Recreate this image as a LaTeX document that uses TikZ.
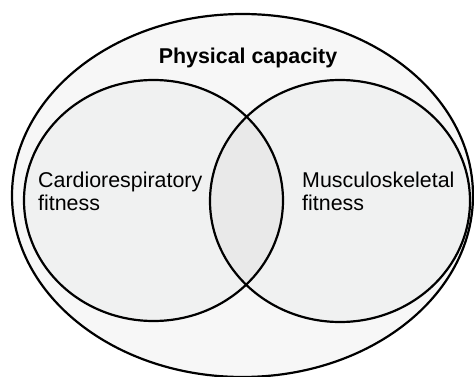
\documentclass[tikz,border=0pt]{standalone}
\usepackage{fontspec}
\setmainfont{Liberation Sans}
\usetikzlibrary{positioning}

\definecolor{outerfill}{HTML}{F7F7F7}
\definecolor{setfill}{HTML}{F0F1F1}
\definecolor{lensfill}{HTML}{E9E9E9}

\tikzset{
  rim/.style={draw=black, line width=2.2pt},
  label/.style={inner sep=0pt, align=left, font=\fontsize{21.4}{24}\selectfont},
}

\begin{document}
\begin{tikzpicture}[x=1pt, y=-1pt]
      \useasboundingbox (0,0) rectangle (474,377);
      \coordinate (outer) at (242.5,195.5);
      \coordinate (cardio) at (153.5,200.5);
      \coordinate (muscle) at (340,201);

      \fill[outerfill] (outer) ellipse [x radius=230.5, y radius=181.5];
      \fill[setfill] (cardio) ellipse [x radius=129.5, y radius=120.5];
      \fill[setfill] (muscle) ellipse [x radius=130, y radius=121];
      \begin{scope}
        \clip (cardio) ellipse [x radius=129.5, y radius=120.5];
        \fill[lensfill] (muscle) ellipse [x radius=130, y radius=121];
      \end{scope}

      \draw[rim] (outer) ellipse [x radius=230.5, y radius=181.5];
      \draw[rim] (cardio) ellipse [x radius=129.5, y radius=120.5];
      \draw[rim] (muscle) ellipse [x radius=130, y radius=121];

      \node[label, font=\fontsize{21.4}{24}\selectfont\bfseries, anchor=base] (capacity) at (248,64) {Physical capacity};
      \node[label, anchor=base west] (cardiotext) at (38,211) {Cardiorespiratory\\fitness};
      \node[label, anchor=base west] (muscletext) at (302,211) {Musculoskeletal\\fitness};
    \end{tikzpicture}
\end{document}
